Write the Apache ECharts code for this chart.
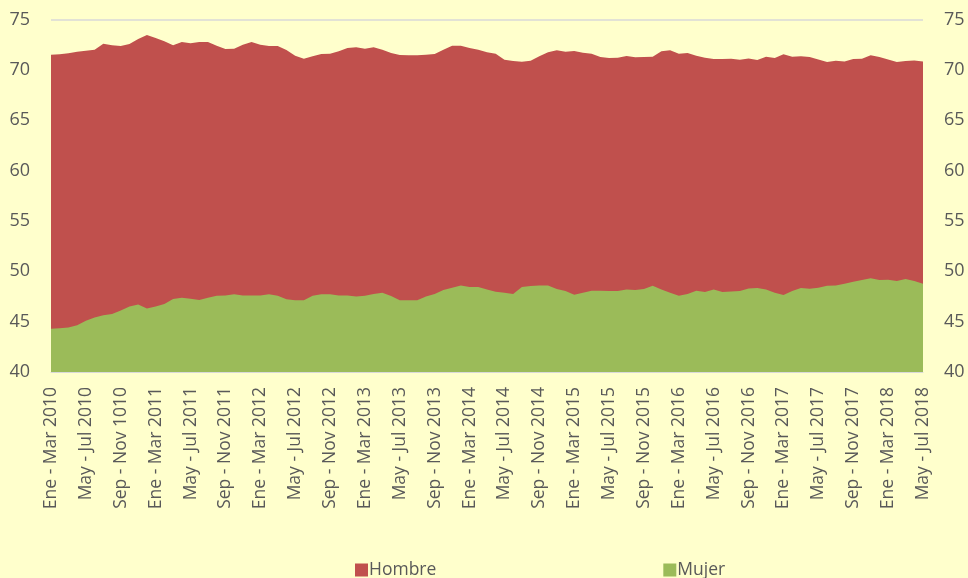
<!DOCTYPE html>
<html>
<head>
<meta charset="utf-8">
<script src="https://cdn.jsdelivr.net/npm/echarts@6/dist/echarts.min.js"></script>
<style>
    html, body {margin: 0; padding: 0; background: #FFFFCC;}
    #fig {width: 968px; height: 578px;}
</style>
</head>
<body>
<div id="fig"></div>
<script>
// trimestres moviles
var meses = ["Ene", "Feb", "Mar", "Abr", "May", "Jun", "Jul", "Ago", "Sep", "Oct", "Nov", "Dic"];
var anios = [2010, 2011, 2012, 2013, 2014, 2015, 2016, 2017, 2018];

var hombre = [
    71.5, 71.54, 71.64, 71.8, 71.9, 72.0, 72.6, 72.44, 72.37, 72.57,
    73.06, 73.46, 73.16, 72.83, 72.44, 72.77, 72.63, 72.77, 72.77, 72.4,
    72.07, 72.1, 72.5, 72.77, 72.5, 72.37, 72.37, 71.97, 71.4, 71.1,
    71.34, 71.57, 71.6, 71.84, 72.17, 72.24, 72.1, 72.24, 72.0, 71.67,
    71.47, 71.44, 71.44, 71.5, 71.57, 72.0, 72.4, 72.4, 72.17, 72.0,
    71.74, 71.6, 71.0, 70.88, 70.8, 70.9, 71.34, 71.74, 71.94, 71.8,
    71.87, 71.7, 71.6, 71.27, 71.17, 71.2, 71.37, 71.24, 71.27, 71.3,
    71.84, 71.94, 71.6, 71.67, 71.4, 71.2, 71.07, 71.07, 71.1, 71.0,
    71.14, 70.97, 71.3, 71.17, 71.54, 71.3, 71.34, 71.27, 71.04, 70.78,
    70.9, 70.84, 71.07, 71.1, 71.44, 71.27, 71.04, 70.78, 70.88, 70.94,
    70.84
];

var mujer = [
    44.3, 44.34, 44.43, 44.63, 45.1, 45.4, 45.63, 45.76, 46.1, 46.5,
    46.7, 46.3, 46.5, 46.75, 47.25, 47.38, 47.28, 47.15, 47.38, 47.58,
    47.6, 47.71, 47.6, 47.6, 47.6, 47.71, 47.58, 47.22, 47.12, 47.12,
    47.58, 47.71, 47.71, 47.6, 47.6, 47.5, 47.58, 47.74, 47.88, 47.55,
    47.12, 47.12, 47.12, 47.5, 47.74, 48.14, 48.37, 48.6, 48.44, 48.44,
    48.2, 47.97, 47.88, 47.74, 48.44, 48.54, 48.6, 48.6, 48.24, 48.04,
    47.68, 47.88, 48.07, 48.07, 48.04, 48.04, 48.2, 48.14, 48.24, 48.57,
    48.2, 47.88, 47.58, 47.74, 48.07, 47.94, 48.2, 47.94, 48.0, 48.04,
    48.3, 48.34, 48.2, 47.88, 47.64, 48.04, 48.34, 48.27, 48.37, 48.57,
    48.6, 48.77, 48.97, 49.14, 49.3, 49.14, 49.17, 49.03, 49.23, 49.03,
    48.77
];

var categorias = [];
for (var i = 0; i < hombre.length; i++) {
    var a = meses[i % 12], b = meses[(i + 2) % 12];
    categorias.push(a + " - " + b + " " + anios[Math.floor(i / 12)]);
}
categorias[8] = "Sep - Nov 1010";  // asi viene en el original

var texto = '#595959';
var fuente = 'Open Sans';

var myChart = echarts.init(document.getElementById("fig"));
var option = {
    backgroundColor: '#FFFFCC',
    animation: false,
    grid: {left: 51, right: 45, top: 19.5, bottom: 206},
    legend: {
        left: 350,
        top: 556,
        itemGap: 227,
        itemWidth: 13,
        itemHeight: 13,
        icon: 'rect',
        textStyle: {color: texto, fontSize: 17.5, fontFamily: fuente, padding: [0, 0, 0, -4]},
        data: ['Hombre', 'Mujer']
    },
    xAxis: {
        type: 'category',
        boundaryGap: false,
        data: categorias,
        axisLine: {lineStyle: {color: '#D9D9D9'}},
        axisTick: {show: false},
        axisLabel: {
            interval: 3,
            rotate: 90,
            margin: 15,
            color: texto,
            fontSize: 17.5,
            fontFamily: fuente
        }
    },
    yAxis: [
        {
            type: 'value', min: 40, max: 75, interval: 5,
            axisLabel: {color: texto, fontSize: 18, fontFamily: fuente, margin: 21},
            splitLine: {lineStyle: {color: '#D9D9D9', width: 1.5}},
            axisLine: {show: false}, axisTick: {show: false}
        },
        {
            type: 'value', min: 40, max: 75, interval: 5, position: 'right',
            axisLabel: {color: texto, fontSize: 18, fontFamily: fuente, margin: 21},
            splitLine: {show: false},
            axisLine: {show: false}, axisTick: {show: false}
        }
    ],
    series: [
        {
            name: 'Hombre',
            type: 'line',
            data: hombre,
            showSymbol: false,
            itemStyle: {color: '#C0504D'},
            lineStyle: {width: 0},
            areaStyle: {color: '#C0504D', opacity: 1, origin: 'start'}
        },
        {
            name: 'Mujer',
            type: 'line',
            data: mujer,
            showSymbol: false,
            itemStyle: {color: '#9BBB59'},
            lineStyle: {width: 0},
            areaStyle: {color: '#9BBB59', opacity: 1, origin: 'start'}
        }
    ]
};

myChart.setOption(option);
</script>
</body>
</html>
